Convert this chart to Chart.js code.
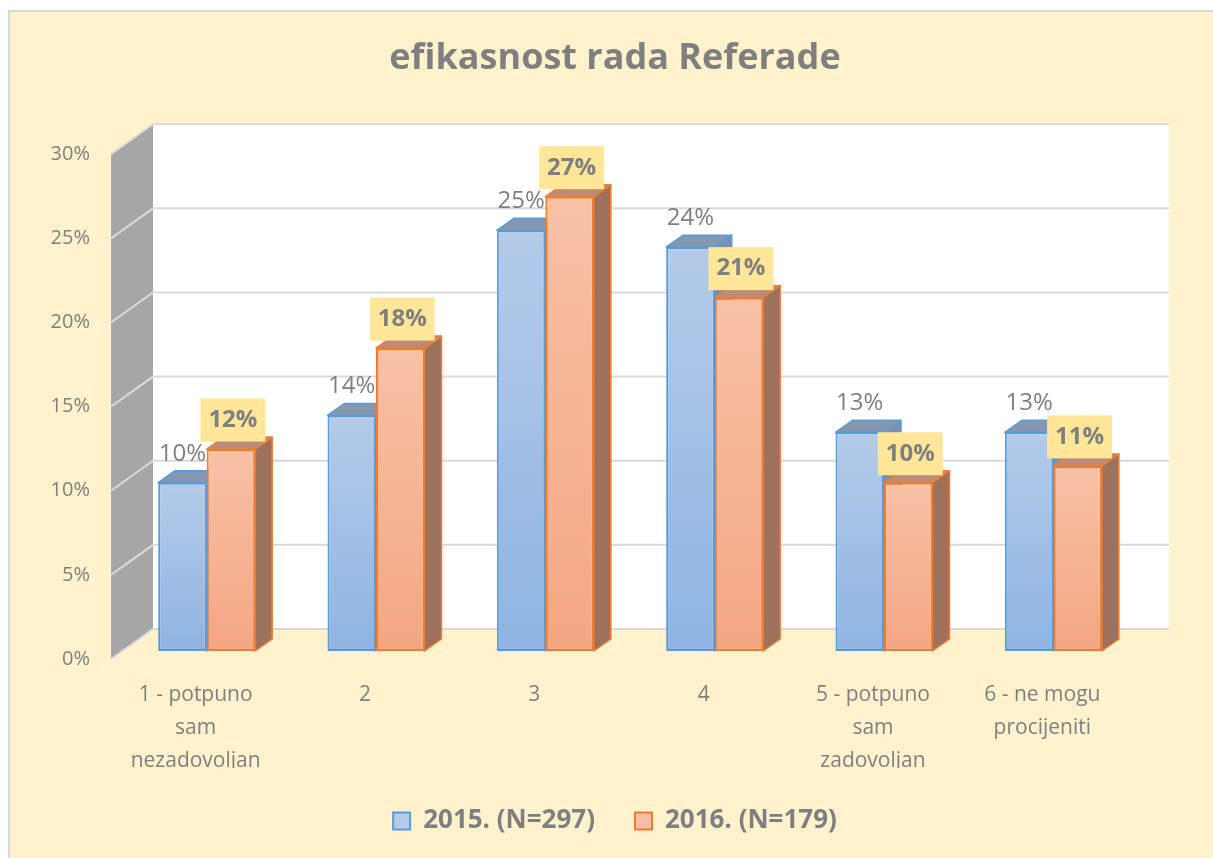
<!DOCTYPE html>
<html>
<head>
<meta charset="utf-8">
<script src="https://cdn.jsdelivr.net/npm/chart.js@4"></script>
<style>
  html, body { margin: 0; padding: 0; background: #fff; }
  canvas { display: block; }
</style>
</head>
<body>
<canvas id="chart" width="1213" height="858"></canvas>
<script>
// podaci
const categories = [
  ['1 - potpuno', 'sam', 'nezadovoljan'],
  '2',
  '3',
  '4',
  ['5 - potpuno', 'sam', 'zadovoljan'],
  ['6 - ne mogu', 'procijeniti']
];
const values2015 = [10, 14, 25, 24, 13, 13];
const values2016 = [12, 18, 27, 21, 10, 11];
const seriesNames = ['2015. (N=297)', '2016. (N=179)'];
const yMax = 30;
const yStep = 5;

const textColor = '#7f7f7f';
const font = '"Open Sans", Lato, sans-serif';

// 3D pomaci (stup, stražnji zid, prednji rub)
const DX = 17, DY = -12;
const BX = 31, BY = -22;
const FX = -11, FY = 8;

// širina najšireg y natpisa, da se desni rub poravna na x=90
const measure = document.createElement('canvas').getContext('2d');
measure.font = '20px ' + font;
const widestY = measure.measureText(yMax + '%').width;

function frontFill(c0, c1) {
  return (ctx) => {
    const chart = ctx.chart;
    const y = chart.scales.y;
    if (ctx.type !== 'data' || !y) return c1;
    const top = y.getPixelForValue(ctx.raw);
    const base = y.getPixelForValue(0);
    if (!isFinite(top) || !isFinite(base) || top === base) return c1;
    const g = chart.ctx.createLinearGradient(0, top, 0, base);
    g.addColorStop(0, c0);
    g.addColorStop(1, c1);
    return g;
  };
}

const faces = [
  { top: '#8497b0', side: '#7b90ae', stroke: '#5b9bd5' },
  { top: '#bd8b76', side: '#9e715c', stroke: '#ed7d31' }
];

function poly(ctx, pts, fill, stroke) {
  ctx.beginPath();
  ctx.moveTo(pts[0][0], pts[0][1]);
  for (let i = 1; i < pts.length; i++) ctx.lineTo(pts[i][0], pts[i][1]);
  ctx.closePath();
  ctx.fillStyle = fill;
  ctx.fill();
  if (stroke) {
    ctx.strokeStyle = stroke;
    ctx.lineWidth = 1.5;
    ctx.lineJoin = 'round';
    ctx.stroke();
  }
}

// pozadina i okvir
const background = {
  id: 'background',
  beforeDraw(chart) {
    const ctx = chart.ctx;
    ctx.save();
    ctx.fillStyle = '#ffffff';
    ctx.fillRect(0, 0, chart.width, chart.height);
    ctx.fillStyle = '#fff2cc';
    ctx.fillRect(10, 12, chart.width - 10, chart.height - 12);
    ctx.strokeStyle = '#d9d9d9';
    ctx.lineWidth = 2;
    ctx.beginPath();
    ctx.moveTo(9, chart.height);
    ctx.lineTo(9, 11);
    ctx.lineTo(chart.width, 11);
    ctx.stroke();
    ctx.restore();
  }
};

// zidovi, mreža i bočne/gornje plohe stupaca
const threeD = {
  id: 'threeD',
  beforeDatasetsDraw(chart) {
    const { ctx, chartArea: a, scales: { y } } = chart;
    ctx.save();
    ctx.fillStyle = '#ffffff';
    ctx.fillRect(a.left + BX, a.top + BY, a.right - a.left, a.bottom - a.top);
    poly(ctx, [
      [a.left + FX, a.top + FY], [a.left + BX, a.top + BY],
      [a.left + BX, a.bottom + BY], [a.left + FX, a.bottom + FY]
    ], '#a6a6a6');
    ctx.strokeStyle = '#d9d9d9';
    ctx.lineWidth = 2;
    y.ticks.forEach(t => {
      const py = y.getPixelForValue(t.value);
      ctx.beginPath();
      ctx.moveTo(a.left + FX, py + FY);
      ctx.lineTo(a.left + BX, py + BY);
      ctx.lineTo(a.right + BX, py + BY);
      ctx.stroke();
    });
    const n = chart.data.labels.length;
    for (let i = 0; i < n; i++) {
      chart.data.datasets.forEach((ds, di) => {
        const el = chart.getDatasetMeta(di).data[i];
        const l = el.x - el.width / 2, r = el.x + el.width / 2;
        const f = faces[di];
        poly(ctx, [[r, el.y], [r + DX, el.y + DY], [r + DX, el.base + DY], [r, el.base]], f.side, f.stroke);
        poly(ctx, [[l, el.y], [r, el.y], [r + DX, el.y + DY], [l + DX, el.y + DY]], f.top, f.stroke);
      });
    }
    ctx.restore();
  },
  afterDatasetsDraw(chart) {
    const ctx = chart.ctx;
    ctx.save();
    ctx.textAlign = 'center';
    ctx.textBaseline = 'middle';
    chart.getDatasetMeta(0).data.forEach((el, i) => {
      ctx.font = '24px ' + font;
      ctx.fillStyle = textColor;
      ctx.fillText(values2015[i] + '%', el.x, el.y - 29);
    });
    chart.getDatasetMeta(1).data.forEach((el, i) => {
      const cx = el.x + 2, cy = el.y - 29;
      ctx.fillStyle = '#ffe699';
      ctx.fillRect(cx - 32.5, cy - 21.5, 65, 43);
      ctx.font = 'bold 24px ' + font;
      ctx.fillStyle = textColor;
      ctx.fillText(values2016[i] + '%', cx, cy);
    });
    ctx.restore();
  }
};

const data = {
  labels: categories,
  datasets: [
    {
      label: seriesNames[0],
      data: values2015,
      backgroundColor: frontFill('#b4cbe9', '#8fb4e3'),
      borderColor: '#5b9bd5',
      borderWidth: 2,
      borderSkipped: false
    },
    {
      label: seriesNames[1],
      data: values2016,
      backgroundColor: frontFill('#f8c1a6', '#f4a682'),
      borderColor: '#ed7d31',
      borderWidth: 2,
      borderSkipped: false
    }
  ]
};

const legendColors = [
  { fill: '#b4cbe9', stroke: '#5b9bd5' },
  { fill: '#f8bda2', stroke: '#ed7d31' }
];

const config = {
  type: 'bar',
  data: data,
  options: {
    responsive: false,
    animation: false,
    devicePixelRatio: 1,
    layout: { padding: { left: 92, right: 75, top: 0, bottom: 14 } },
    datasets: {
      bar: { categoryPercentage: 0.573, barPercentage: 1 }
    },
    scales: {
      x: {
        grid: { display: false, drawTicks: false },
        border: { display: false },
        ticks: {
          color: textColor,
          font: { family: font, size: 21, lineHeight: 1.58 },
          padding: 27,
          labelOffset: -11,
          maxRotation: 0,
          autoSkip: false
        },
        afterFit(scale) { scale.height = 117; }
      },
      y: {
        min: 0,
        max: yMax,
        grid: { display: false, drawTicks: false },
        border: { display: false },
        ticks: {
          stepSize: yStep,
          color: textColor,
          font: { family: font, size: 20 },
          mirror: true,
          crossAlign: 'far',
          padding: 90 - 122 - widestY,
          labelOffset: 8,
          callback: (v) => v + '%'
        },
        afterFit(scale) { scale.width = 30; }
      }
    },
    plugins: {
      title: {
        display: true,
        text: 'efikasnost rada Referade',
        color: textColor,
        font: { family: font, size: 36, weight: 'bold', lineHeight: 1.2 },
        padding: { top: 37, bottom: 66 }
      },
      legend: {
        display: true,
        position: 'bottom',
        labels: {
          color: textColor,
          font: { family: font, size: 26, weight: 'bold' },
          boxWidth: 17,
          boxHeight: 17,
          padding: 40,
          generateLabels: (chart) => chart.data.datasets.map((ds, i) => ({
            text: ds.label,
            fillStyle: legendColors[i].fill,
            strokeStyle: legendColors[i].stroke,
            lineWidth: 2,
            fontColor: textColor,
            hidden: false,
            datasetIndex: i
          }))
        }
      },
      tooltip: { enabled: false }
    }
  },
  plugins: [background, threeD]
};

const ctx = document.getElementById('chart').getContext('2d');
const chart = new Chart(ctx, config);
</script>
</body>
</html>
